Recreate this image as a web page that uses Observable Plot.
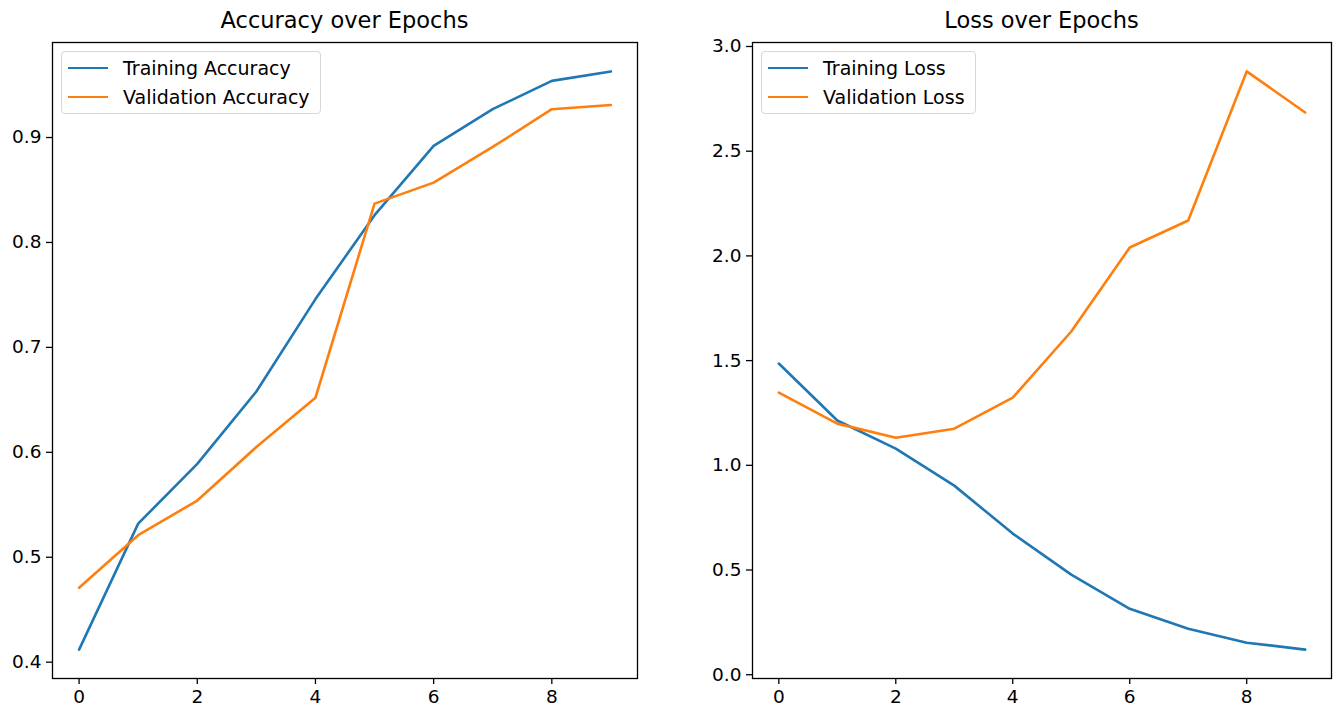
<!DOCTYPE html>
<html>
<head>
<meta charset="utf-8">
<script src="https://cdn.jsdelivr.net/npm/d3@7"></script>
<script src="https://cdn.jsdelivr.net/npm/@observablehq/plot@0.6"></script>
<style>
  html, body { margin: 0; padding: 0; background: #fff; }
  #wrap { position: relative; width: 1340px; height: 711px; overflow: hidden; font-family: "DejaVu Sans", sans-serif; color: #000; }
  .panel { position: absolute; top: 0; }
  .title { position: absolute; top: 7px; font-size: 22.5px; transform: translateX(-50%); white-space: nowrap; }
  .legend { position: absolute; top: 51px; border: 1px solid #d6d6d6; border-radius: 4px; background: rgba(255,255,255,0.8); padding: 1px 10px 2px 6px; font-size: 19px; }
  .legend .row { display: flex; align-items: center; height: 29px; }
  .legend .sw { width: 40px; height: 0; border-top: 2.5px solid; margin-right: 15px; }
</style>
</head>
<body>
<div id="wrap"></div>
<script>
const epochs = [0, 1, 2, 3, 4, 5, 6, 7, 8, 9];
const trainAcc = [0.412, 0.532, 0.589, 0.658, 0.746, 0.826, 0.892, 0.927, 0.954, 0.963];
const valAcc   = [0.471, 0.521, 0.554, 0.605, 0.652, 0.837, 0.857, 0.891, 0.927, 0.931];
const trainLoss = [1.486, 1.214, 1.080, 0.903, 0.674, 0.478, 0.315, 0.220, 0.153, 0.120];
const valLoss   = [1.347, 1.199, 1.132, 1.175, 1.323, 1.639, 2.040, 2.169, 2.881, 2.685];
const xTicks = [0, 2, 4, 6, 8];
const accTicks = [0.4, 0.5, 0.6, 0.7, 0.8, 0.9];
const lossTicks = [0.0, 0.5, 1.0, 1.5, 2.0, 2.5, 3.0];
const titles = ["Accuracy over Epochs", "Loss over Epochs"];
const accNames = ["Training Accuracy", "Validation Accuracy"];
const lossNames = ["Training Loss", "Validation Loss"];
const colors = ["#1f77b4", "#ff7f0e"];

function pad(vals) {
  const lo = d3.min(vals), hi = d3.max(vals), m = (hi - lo) * 0.05;
  return [lo - m, hi + m];
}
const xDomain = [-0.45, 9.45];

function panel({left, width, marginLeft, marginRight, series, yTicks}) {
  const all = series.flat();
  const rows = series.map((vals, s) => epochs.map((e, i) => ({epoch: e, value: vals[i], s})));
  const chart = Plot.plot({
    width, height: 711,
    marginLeft, marginRight, marginTop: 42, marginBottom: 33,
    style: {fontFamily: "DejaVu Sans, sans-serif", fontSize: "18.5px", color: "#000", background: "transparent"},
    x: {domain: xDomain},
    y: {domain: pad(all)},
    marks: [
      Plot.axisX({ticks: xTicks, tickSize: 6, tickPadding: 5, tickFormat: d => String(d), label: null, strokeWidth: 1.3}),
      Plot.axisY({ticks: yTicks, tickSize: 6, tickPadding: 5, tickFormat: d => d.toFixed(1), label: null, strokeWidth: 1.3}),
      ...rows.map((r, s) => Plot.line(r, {x: "epoch", y: "value", stroke: colors[s], strokeWidth: 2.6})),
      Plot.frame({stroke: "#000", strokeWidth: 1.3})
    ]
  });
  const div = document.createElement("div");
  div.className = "panel";
  div.style.left = left + "px";
  div.appendChild(chart);
  document.getElementById("wrap").appendChild(div);
}

panel({left: 0, width: 660, marginLeft: 52, marginRight: 23, series: [trainAcc, valAcc], yTicks: accTicks});
panel({left: 660, width: 680, marginLeft: 92, marginRight: 9, series: [trainLoss, valLoss], yTicks: lossTicks});

const wrap = document.getElementById("wrap");
[[344.5, titles[0]], [1041.5, titles[1]]].forEach(([cx, t]) => {
  const d = document.createElement("div");
  d.className = "title"; d.style.left = cx + "px"; d.textContent = t;
  wrap.appendChild(d);
});
[[61, accNames], [761, lossNames]].forEach(([lx, names]) => {
  const lg = document.createElement("div");
  lg.className = "legend"; lg.style.left = lx + "px";
  names.forEach((n, i) => {
    const r = document.createElement("div"); r.className = "row";
    const sw = document.createElement("span"); sw.className = "sw"; sw.style.borderColor = colors[i];
    const tx = document.createElement("span"); tx.textContent = n;
    r.appendChild(sw); r.appendChild(tx); lg.appendChild(r);
  });
  wrap.appendChild(lg);
});
</script>
</body>
</html>
